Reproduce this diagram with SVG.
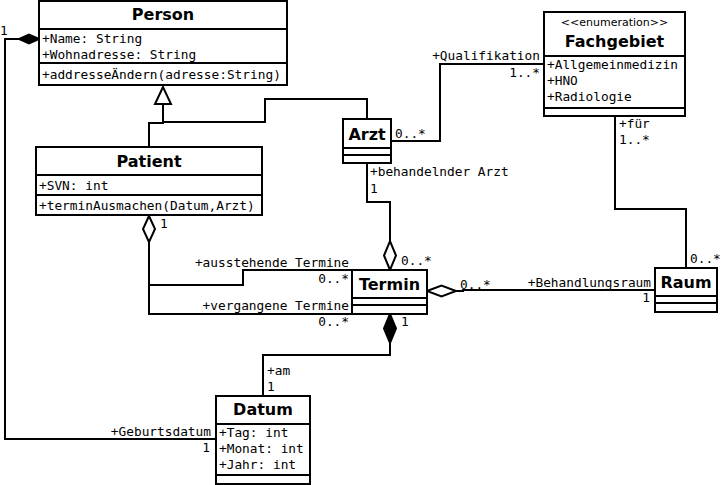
<svg xmlns="http://www.w3.org/2000/svg" width="722" height="485" viewBox="0 0 722 485">
<style>
.box{fill:#fff;stroke:#000;stroke-width:2}
.sep{stroke:#000;stroke-width:2}
.t{font-family:"DejaVu Sans","Liberation Sans",sans-serif;font-weight:bold;font-size:16px;text-anchor:middle}
.st{font-family:"DejaVu Sans","Liberation Sans",sans-serif;font-size:11px;text-anchor:middle}
.m{font-family:"DejaVu Sans Mono","Liberation Mono",monospace;font-size:12.8px}
.e{text-anchor:end}
.ln{fill:none;stroke:#000;stroke-width:2}
.hd{fill:#fff;stroke:#000;stroke-width:2}
.fd{fill:#000;stroke:#000;stroke-width:2}
</style>
<rect width="722" height="485" fill="#fff"/>
<g id="connectors">
<path class="ln" d="M19,39 H5 V439 H216"/>
<polygon class="fd" points="39,39 29,34.5 19,39 29,43.5"/>
<path class="ln" d="M149,147 V123 H163 V104"/>
<path class="ln" d="M163,122 H265 V99 H367 V119"/>
<polygon class="hd" points="163,87 155,104 171,104"/>
<path class="ln" d="M391,141 H440 V64 H544"/>
<path class="ln" d="M615,116 V209 H686 V268"/>
<path class="ln" d="M367,163 V202 H390 V241"/>
<polygon class="hd" points="390,270 384,255.5 390,241 396,255.5"/>
<path class="ln" d="M149,242 V314 H352"/>
<path class="ln" d="M149,285 H243 V270 H352"/>
<polygon class="hd" points="149,216 143,229 149,242 155,229"/>
<path class="ln" d="M456,291 H463 V290 H655"/>
<polygon class="hd" points="427,291 441.5,285.5 456,291 441.5,296.5"/>
<path class="ln" d="M390,343 V355 H263 V396"/>
<polygon class="fd" points="390,314 384,328.5 390,343 396,328.5"/>
<text class="m" x="0" y="35">1</text>
<text class="m e" x="211" y="436">+Geburtsdatum</text>
<text class="m e" x="210" y="452">1</text>
<text class="m" x="160" y="228">1</text>
<text class="m e" x="349" y="267">+ausstehende Termine</text>
<text class="m e" x="349" y="283">0..*</text>
<text class="m e" x="349" y="310">+vergangene Termine</text>
<text class="m e" x="349" y="326">0..*</text>
<text class="m" x="401" y="265">0..*</text>
<text class="m" x="401" y="326">1</text>
<text class="m" x="370" y="176">+behandelnder Arzt</text>
<text class="m" x="370" y="193">1</text>
<text class="m" x="395" y="138">0..*</text>
<text class="m e" x="540" y="60">+Qualifikation</text>
<text class="m e" x="540" y="77">1..*</text>
<text class="m" x="619" y="128">+für</text>
<text class="m" x="619" y="144">1..*</text>
<text class="m" x="690" y="263">0..*</text>
<text class="m e" x="651" y="287">+Behandlungsraum</text>
<text class="m e" x="650" y="302">1</text>
<text class="m" x="460" y="289">0..*</text>
<text class="m" x="267" y="375">+am</text>
<text class="m" x="267" y="391">1</text>
</g>
<g id="Person">
<rect class="box" x="39" y="1" width="248" height="84"/>
<line class="sep" x1="39" y1="29" x2="287" y2="29"/>
<line class="sep" x1="39" y1="63" x2="287" y2="63"/>
<text class="t" x="163" y="20">Person</text>
<text class="m" x="42" y="43">+Name: String</text>
<text class="m" x="42" y="59">+Wohnadresse: String</text>
<text class="m" x="42" y="79">+addresseÄndern(adresse:String)</text>
</g>
<g id="Patient">
<rect class="box" x="36" y="147" width="226" height="68"/>
<line class="sep" x1="36" y1="175" x2="262" y2="175"/>
<line class="sep" x1="36" y1="195" x2="262" y2="195"/>
<text class="t" x="149" y="167">Patient</text>
<text class="m" x="39" y="190">+SVN: int</text>
<text class="m" x="39" y="210">+terminAusmachen(Datum,Arzt)</text>
</g>
<g id="Arzt">
<rect class="box" x="343" y="119" width="48" height="44"/>
<line class="sep" x1="343" y1="148" x2="391" y2="148"/>
<line class="sep" x1="343" y1="155" x2="391" y2="155"/>
<text class="t" x="367" y="140">Arzt</text>
</g>
<g id="Fachgebiet">
<rect class="box" x="544" y="12" width="141" height="104"/>
<line class="sep" x1="544" y1="56" x2="685" y2="56"/>
<line class="sep" x1="544" y1="108" x2="685" y2="108"/>
<text class="st" x="614.5" y="26">&lt;&lt;enumeration&gt;&gt;</text>
<text class="t" x="614.5" y="47">Fachgebiet</text>
<text class="m" x="547" y="69">+Allgemeinmedizin</text>
<text class="m" x="547" y="85">+HNO</text>
<text class="m" x="547" y="101">+Radiologie</text>
</g>
<g id="Termin">
<rect class="box" x="352" y="270" width="75" height="44"/>
<line class="sep" x1="352" y1="298" x2="427" y2="298"/>
<line class="sep" x1="352" y1="305" x2="427" y2="305"/>
<text class="t" x="389.5" y="290">Termin</text>
</g>
<g id="Raum">
<rect class="box" x="655" y="268" width="62" height="44"/>
<line class="sep" x1="655" y1="296" x2="717" y2="296"/>
<line class="sep" x1="655" y1="303" x2="717" y2="303"/>
<text class="t" x="686" y="288">Raum</text>
</g>
<g id="Datum">
<rect class="box" x="216" y="396" width="94" height="88"/>
<line class="sep" x1="216" y1="424" x2="310" y2="424"/>
<line class="sep" x1="216" y1="475" x2="310" y2="475"/>
<text class="t" x="263" y="415">Datum</text>
<text class="m" x="219" y="437">+Tag: int</text>
<text class="m" x="219" y="453">+Monat: int</text>
<text class="m" x="219" y="469">+Jahr: int</text>
</g>
</svg>
